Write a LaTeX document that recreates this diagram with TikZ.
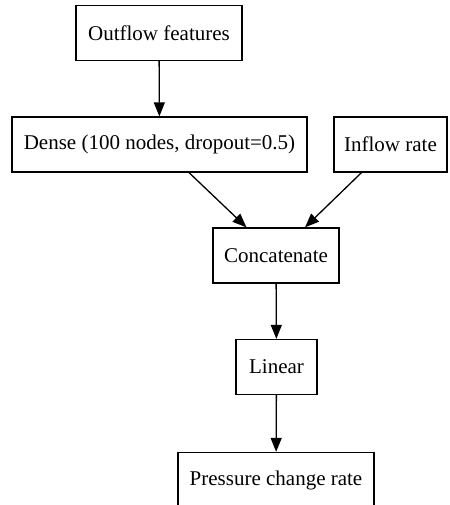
\documentclass[tikz,border=0pt]{standalone}
\usepackage{fontspec}
\setmainfont{Liberation Serif}
\usetikzlibrary{arrows.meta}
\begin{document}
\begin{tikzpicture}[x=0.5pt,y=-0.5pt,
    box/.style={draw, line width=0.65pt, inner sep=0pt, minimum height=27.5pt,
                font=\fontsize{10.5}{12}\selectfont},
    flow/.style={line width=0.65pt, -{Triangle[length=7pt,width=5.5pt]}}]
			    \useasboundingbox (0,0) rectangle (450,505);
			    \node[box, minimum width=83pt] (OF) at (159,33) {Outflow features};
		    	\node[box, minimum width=147.5pt] (DN) at (159.5,144.5) {Dense (100 nodes, dropout=0.5)};
		    	\node[box, minimum width=56.5pt] (IR) at (390.5,144.5) {Inflow rate};
		    	\node[box, minimum width=63pt] (CC) at (276,255.5) {Concatenate};
		    	\node[box, minimum width=40.5pt] (LN) at (276.5,367) {Linear};
		    	\node[box, minimum width=98pt] (PC) at (276,480) {Pressure change rate};
		    	
		    	\draw[flow] (OF)--(DN);
		    	\draw[flow] (DN)--(CC);
		    	\draw[flow] (IR)--(CC);
		    	\draw[flow] (CC)--(LN);
		    	\draw[flow] (LN)--(PC);
		    \end{tikzpicture}
\end{document}
